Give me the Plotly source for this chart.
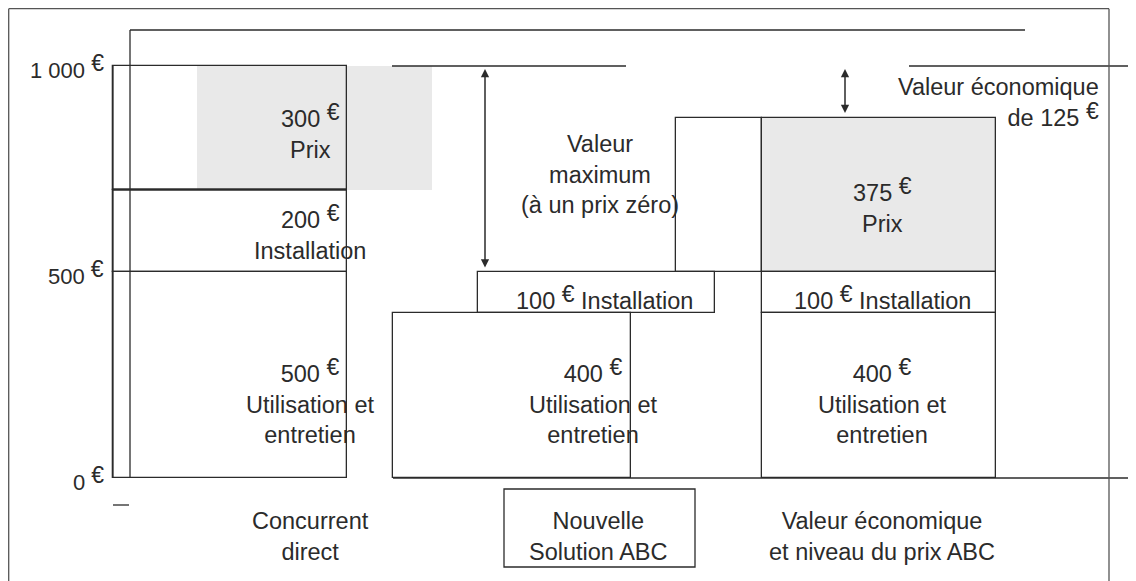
import plotly.graph_objects as go

# Data
COLUMNS = ["Concurrent<br>direct", "Nouvelle<br>Solution ABC", "Valeur économique<br>et niveau du prix ABC"]
UTILISATION = [500, 400, 400]
INSTALLATION = [200, 100, 100]
PRIX = [300, 0, 375]
VALEUR_MAX = 1000
TICK_VALUES = [0, 500, 1000]
TICK_LABELS = ["0", "500", "1 000"]

# Canvas / scale (pixel geometry of the scanned figure)
# the page body adds an 8px margin, so the figure starts at screen pixel (8, 8)
PAGE, SW, SH = 8, 1136, 581
Y0_PX, Y1000_PX = 478, 66
SCALE = (Y0_PX - Y1000_PX) / 1000


def py(p):
    """screen pixel row -> value on the y axis"""
    return (Y0_PX - p) / SCALE


INK = "#2b2b2b"
GREY = "#e9e9e9"
FONT = "Liberation Sans, Arial, Helvetica, sans-serif"
FS = 23.5
EURO = '<span style="font-size:23px;baseline-shift:7px">€</span>'

# horizontal extents of each block (left, right) in screen pixels
UTIL_X = [(113, 347), (393, 631), (762, 996)]
INST_X = [(113, 347), (478, 715), (762, 996)]
PRIX_X = [(113, 347), None, (762, 996)]
GREY_X = [(197, 432), None, (762, 996)]

util_base = [0, 0, 0]
inst_base = [u for u in UTILISATION]
prix_base = [u + i for u, i in zip(UTILISATION, INSTALLATION)]
totals = [b + p for b, p in zip(prix_base, PRIX)]


def bar(xs, base, vals, fill, line_w=1.3):
    keep = [k for k in range(len(vals)) if xs[k] is not None and vals[k] > 0]
    return go.Bar(
        x=[(xs[k][0] + xs[k][1]) / 2 for k in keep],
        width=[xs[k][1] - xs[k][0] for k in keep],
        base=[base[k] for k in keep],
        y=[vals[k] for k in keep],
        marker=dict(color=fill, line=dict(color=INK, width=line_w)),
        hoverinfo="skip", showlegend=False,
    )


def hline(x0, x1, y, width=1.3):
    return go.Scatter(x=[x0, x1], y=[y, y], mode="lines", line=dict(color=INK, width=width),
                      hoverinfo="skip", showlegend=False)


fig = go.Figure()

# grey price areas (first layer is offset in the scan)
fig.add_trace(bar(GREY_X, prix_base, PRIX, GREY, line_w=0))
# stacked outlines
fig.add_trace(bar(UTIL_X, util_base, UTILISATION, "rgba(0,0,0,0)"))
fig.add_trace(bar(INST_X, inst_base, INSTALLATION, "rgba(0,0,0,0)"))
fig.add_trace(bar(PRIX_X, prix_base, PRIX, "rgba(0,0,0,0)"))
# extra box left of the ABC price block
fig.add_trace(bar([None, None, (676, 762)], prix_base, PRIX, "rgba(0,0,0,0)"))

# reference lines
fig.add_trace(go.Scatter(x=[113, 113], y=[0, VALEUR_MAX], mode="lines",
                         line=dict(color=INK, width=1.3), hoverinfo="skip", showlegend=False))
fig.add_trace(hline(392, 626, totals[0]))
fig.add_trace(hline(909, 1136, totals[0]))
fig.add_trace(hline(393, 1136, 0))
fig.add_trace(hline(113, 347, prix_base[0], width=2.2))

# frames of the scanned page
line = dict(color=INK, width=1.3)
frame = dict(color="#555555", width=1.3)
fig.add_shape(type="line", xref="x", yref="y", x0=8.7, x1=8.7, y0=py(8.7), y1=py(SH), line=frame)
fig.add_shape(type="line", xref="x", yref="y", x0=8.7, x1=1109, y0=py(8.7), y1=py(8.7), line=frame)
fig.add_shape(type="line", xref="x", yref="y", x0=1109, x1=1109, y0=py(8.7), y1=py(SH), line=frame)
fig.add_shape(type="line", xref="x", yref="y", x0=130, x1=1025, y0=py(30), y1=py(30), line=line)
fig.add_shape(type="line", xref="x", yref="y", x0=130, x1=130, y0=py(30), y1=0, line=line)
fig.add_shape(type="line", xref="x", yref="y", x0=113, x1=129, y0=py(505), y1=py(505), line=line)
fig.add_shape(type="rect", xref="x", yref="y", x0=504, x1=695, y0=py(489), y1=py(567), line=line)

# arrows
arrow = dict(xref="x", yref="y", axref="x", ayref="y", text="", showarrow=True,
             arrowhead=2, startarrowhead=2, arrowside="end+start", arrowsize=1.1,
             arrowwidth=1.5, arrowcolor=INK, standoff=3, startstandoff=3)
fig.add_annotation(x=485, y=totals[0], ax=485, ay=prix_base[1], **arrow)
fig.add_annotation(x=845, y=totals[0], ax=845, ay=totals[2], **arrow)

txt = dict(xref="x", yref="y", showarrow=False, font=dict(family=FONT, size=FS, color=INK))

# y tick labels
for v, lab in zip(TICK_VALUES, TICK_LABELS):
    fig.add_annotation(x=106, y=v, text=f"{lab} {EURO}", xanchor="right", yanchor="middle",
                       **{**txt, "font": dict(family=FONT, size=22, color=INK)})

# block labels (pixel centres)
fig.add_annotation(x=310, y=py(131), text=f"{PRIX[0]} {EURO}<br>Prix", **txt)
fig.add_annotation(x=310, y=py(232), text=f"{INSTALLATION[0]} {EURO}<br>Installation", **txt)
fig.add_annotation(x=310, y=py(401), text=f"{UTILISATION[0]} {EURO}<br>Utilisation et<br>entretien", **txt)
fig.add_annotation(x=604, y=py(297), text=f"{INSTALLATION[1]} {EURO} Installation", **txt)
fig.add_annotation(x=593, y=py(401), text=f"{UTILISATION[1]} {EURO}<br>Utilisation et<br>entretien", **txt)
fig.add_annotation(x=882, y=py(205), text=f"{PRIX[2]} {EURO}<br>Prix", **txt)
fig.add_annotation(x=882, y=py(297), text=f"{INSTALLATION[2]} {EURO} Installation", **txt)
fig.add_annotation(x=882, y=py(401), text=f"{UTILISATION[2]} {EURO}<br>Utilisation et<br>entretien", **txt)

fig.add_annotation(x=600, y=py(174), text="Valeur<br>maximum<br>(à un prix zéro)", **txt)
fig.add_annotation(x=1101, y=py(102), text=f"Valeur économique<br>de {totals[0] - totals[2]} {EURO}",
                   xanchor="right", align="right", **txt)

# category labels
for cx, name in zip([310, 598, 882], COLUMNS):
    fig.add_annotation(x=cx, y=py(536), text=name, **txt)

fig.update_layout(
    width=SW - PAGE, height=SH - PAGE,
    margin=dict(l=0, r=0, t=0, b=0),
    paper_bgcolor="white", plot_bgcolor="white",
    barmode="overlay", bargap=0,
    xaxis=dict(range=[PAGE, SW], visible=False, fixedrange=True),
    yaxis=dict(range=[py(SH), py(PAGE)], visible=False, fixedrange=True),
    showlegend=False,
)

fig.write_html("out.html")
